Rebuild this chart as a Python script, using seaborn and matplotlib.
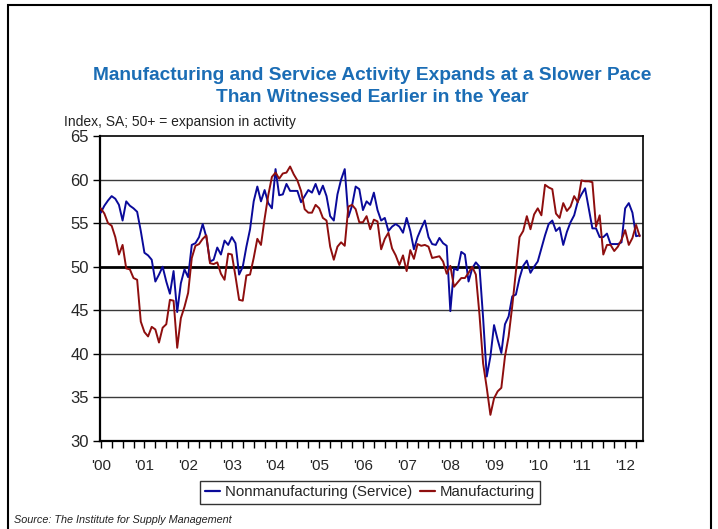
import matplotlib
matplotlib.use("Agg")
import matplotlib.pyplot as plt
import seaborn as sns
import pandas as pd
from matplotlib.patches import Rectangle

# ---- data (monthly, Jan 2000 - May 2012) ----
year_labels = ["'00", "'01", "'02", "'03", "'04", "'05", "'06",
               "'07", "'08", "'09", "'10", "'11", "'12"]

nonmanufacturing = [
    56.2, 57.0, 57.6, 58.1, 57.8, 57.1, 55.3, 57.5, 57.0, 56.7, 56.3, 54.1,  # 2000
    51.6, 51.3, 50.8, 48.3, 49.1, 50.0, 48.3, 46.9, 49.5, 44.8, 48.1, 49.7,  # 2001
    48.8, 52.5, 52.7, 53.4, 54.9, 53.4, 50.6, 50.8, 52.2, 51.4, 53.0, 52.5,  # 2002
    53.4, 52.7, 49.1, 50.0, 52.3, 54.3, 57.5, 59.2, 57.5, 58.8, 57.3, 56.7,  # 2003
    61.2, 58.2, 58.3, 59.5, 58.7, 58.7, 58.7, 57.4, 58.1, 58.8, 58.5, 59.5,  # 2004
    58.3, 59.3, 58.1, 55.8, 55.3, 58.3, 60.0, 61.2, 55.7, 57.0, 59.2, 58.9,  # 2005
    56.5, 57.5, 57.1, 58.5, 56.5, 55.3, 55.6, 54.1, 54.6, 54.9, 54.6, 53.9,  # 2006
    55.6, 54.1, 52.0, 53.4, 54.4, 55.3, 53.4, 52.6, 52.5, 53.3, 52.7, 52.4,  # 2007
    44.9, 49.8, 49.6, 51.7, 51.4, 48.3, 49.8, 50.5, 50.0, 44.1, 37.4, 39.7,  # 2008
    43.3, 41.6, 40.1, 43.4, 44.3, 46.6, 46.8, 48.7, 50.1, 50.7, 49.3, 50.0,  # 2009
    50.6, 52.1, 53.6, 54.9, 55.3, 54.1, 54.5, 52.5, 54.0, 55.1, 55.9, 57.5,  # 2010
    58.3, 59.0, 56.7, 54.4, 54.4, 53.4, 53.4, 53.8, 52.6, 52.6, 52.6, 52.8,  # 2011
    56.7, 57.3, 56.2, 53.5, 53.6,                                            # 2012
]

manufacturing = [
    56.7, 56.1, 55.0, 54.7, 53.4, 51.4, 52.5, 49.8, 49.7, 48.7, 48.5, 43.7,  # 2000
    42.5, 42.0, 43.1, 42.8, 41.3, 43.0, 43.4, 46.2, 46.1, 40.7, 44.1, 45.4,  # 2001
    47.0, 51.0, 52.4, 52.6, 53.2, 53.6, 50.4, 50.3, 50.5, 49.2, 48.5, 51.5,  # 2002
    51.4, 48.9, 46.2, 46.1, 49.0, 49.1, 51.0, 53.2, 52.5, 55.5, 58.2, 60.3,  # 2003
    60.8, 60.1, 60.7, 60.8, 61.5, 60.6, 59.9, 58.7, 56.6, 56.2, 56.2, 57.1,  # 2004
    56.7, 55.6, 55.3, 52.3, 50.8, 52.3, 52.8, 52.4, 56.9, 57.1, 56.6, 55.1,  # 2005
    55.1, 55.8, 54.3, 55.4, 55.2, 52.0, 53.2, 53.9, 52.1, 51.3, 50.2, 51.3,  # 2006
    49.5, 51.9, 50.9, 52.6, 52.4, 52.5, 52.3, 51.0, 51.1, 51.2, 50.6, 49.2,  # 2007
    50.1, 47.7, 48.2, 48.7, 48.7, 49.3, 50.0, 49.1, 44.5, 38.9, 36.1, 33.0,  # 2008
    34.9, 35.7, 36.1, 39.7, 42.0, 45.5, 49.5, 53.4, 54.1, 55.8, 54.3, 56.0,  # 2009
    56.7, 55.9, 59.4, 59.1, 58.9, 56.1, 55.6, 57.3, 56.4, 56.9, 58.1, 57.4,  # 2010
    59.9, 59.8, 59.8, 59.7, 54.6, 55.9, 51.4, 52.5, 52.5, 51.8, 52.3, 53.1,  # 2011
    54.2, 52.5, 53.3, 54.8, 53.5,                                            # 2012
]

series_names = ["Nonmanufacturing (Service)", "Manufacturing"]
series_colors = ["#0A0A9A", "#8E0E0E"]

n = len(manufacturing)
month_idx = list(range(n))
df = pd.DataFrame({
    "month": month_idx * 2,
    "value": nonmanufacturing + manufacturing,
    "series": [series_names[0]] * n + [series_names[1]] * n,
})

# ---- style ----
sns.set_style("white")
plt.rcParams["font.family"] = ["Liberation Sans", "DejaVu Sans"]

fig = plt.figure(figsize=(7.18, 5.29), dpi=100)
ax = fig.add_axes([100 / 718, 1 - 441 / 529, 543 / 718, 305 / 529])

# gridlines
for yv in [35, 40, 45, 55, 60]:
    ax.axhline(yv, color="#3a3a3a", lw=1.0, zorder=1)
ax.axhline(50, color="black", lw=2.0, zorder=1)

sns.lineplot(data=df, x="month", y="value", hue="series",
             palette=dict(zip(series_names, series_colors)),
             linewidth=1.4, ax=ax, legend=False, zorder=3)

ax.set_xlim(-0.2, 148.9)
ax.set_ylim(30, 65)
ax.set_yticks(range(30, 66, 5))
ax.set_yticklabels([str(v) for v in range(30, 66, 5)], fontsize=12)
ax.set_xticks(range(0, 12 * len(year_labels), 12))
ax.set_xticklabels(year_labels, fontsize=11)
ax.set_xticks(range(0, n, 3), minor=True)
ax.tick_params(axis="x", which="both", direction="out", length=5, width=1,
               color="black", bottom=True, pad=8)
ax.tick_params(axis="y", direction="out", length=5, width=1, color="black",
               left=True, pad=3)
ax.set_xlabel("")
ax.set_ylabel("")
for s in ax.spines.values():
    s.set_color("black")
    s.set_linewidth(1.2)
ax.spines["left"].set_linewidth(1.6)
ax.spines["bottom"].set_linewidth(1.6)

# titles
fig.text(372 / 718, 1 - 76 / 529,
         "Manufacturing and Service Activity Expands at a Slower Pace",
         ha="center", va="center", fontsize=13.8, fontweight="bold", color="#1B6DB5")
fig.text(372 / 718, 1 - 98 / 529, "Than Witnessed Earlier in the Year",
         ha="center", va="center", fontsize=13.8, fontweight="bold", color="#1B6DB5")
fig.text(64 / 718, 1 - 122 / 529, "Index, SA; 50+ = expansion in activity",
         ha="left", va="center", fontsize=10, color="#222222")

# legend
handles = [plt.Line2D([], [], color=c, lw=1.6) for c in series_colors]
leg = fig.legend(handles, series_names, loc="center", ncol=2,
                 bbox_to_anchor=(370 / 718, 1 - 492 / 529), fontsize=10.8,
                 frameon=True, fancybox=False, edgecolor="black",
                 handlelength=1.0, handletextpad=0.35, columnspacing=0.5,
                 borderpad=0.3)
leg.get_frame().set_linewidth(1.0)

fig.text(14 / 718, 1 - 520 / 529, "Source: The Institute for Supply Management",
         ha="left", va="center", fontsize=7.8, style="italic", color="#222222")

# outer frame
fig.patches.append(Rectangle((8 / 718, -0.02), 703 / 718, 1.02 - 5 / 529,
                             transform=fig.transFigure, fill=False,
                             edgecolor="black", linewidth=1.5))

fig.savefig("out.png", dpi=100)
